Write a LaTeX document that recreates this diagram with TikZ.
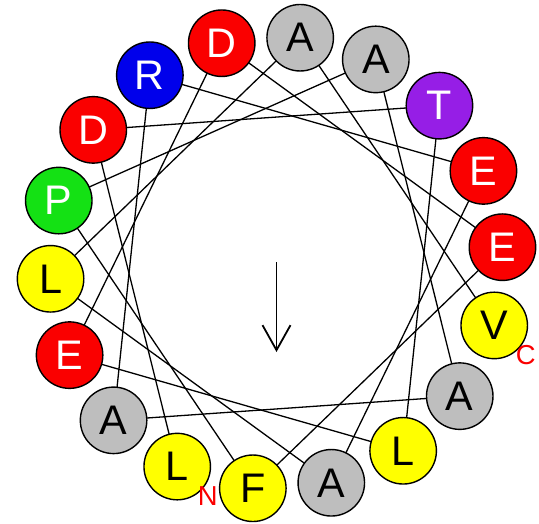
\documentclass[tikz,border=0pt]{standalone}
\usepackage{fontspec}
\setmainfont{Liberation Sans}
\usetikzlibrary{arrows.meta,backgrounds}

\definecolor{resred}{RGB}{250,0,0}
\definecolor{resgray}{RGB}{190,190,190}
\definecolor{resyellow}{RGB}{255,255,0}
\definecolor{resblue}{RGB}{0,0,235}
\definecolor{resgreen}{RGB}{20,225,20}
\definecolor{respurple}{RGB}{150,30,230}

\tikzset{
  residue/.style={circle, draw=black, line width=1.4bp, minimum size=66.5bp,
    inner sep=0pt, font=\fontsize{41.5}{41.5}\selectfont},
  link/.style={line width=1.3bp, draw=black},
  termlabel/.style={text=resred, font=\fontsize{27.5}{27.5}\selectfont, inner sep=0pt}
}

\begin{document}
\begin{tikzpicture}[x=1bp, y=-1bp]
  \useasboundingbox (0,0) rectangle (539,524);

  % helical wheel: residue k sits at 206 + 100(k-1) degrees, clockwise from top
  \foreach \k/\ang/\fillc/\txtc/\aa in {
      1/206/resyellow/black/L,
      2/306/resred/white/D,
      3/46/respurple/white/T,
      4/146/resyellow/black/L,
      5/246/resred/white/E,
      6/346/resred/white/D,
      7/86/resred/white/E,
      8/186/resyellow/black/F,
      9/286/resgreen/white/P,
      10/26/resgray/black/A,
      11/126/resgray/black/A,
      12/226/resgray/black/A,
      13/326/resblue/white/R,
      14/66/resred/white/E,
      15/166/resgray/black/A,
      16/266/resyellow/black/L,
      17/6/resgray/black/A,
      18/106/resyellow/black/V}{
    \node[residue, fill=\fillc, text=\txtc] (r\k)
      at ({276.5+226.5*sin(\ang)}, {263-226.5*cos(\ang)}) {\aa};
  }

  % backbone links between consecutive residues, behind the circles
  \begin{pgfonlayer}{background}
    \foreach \k [evaluate=\k as \n using int(\k+1)] in {1,...,17}{
      \draw[link] (r\k.center) -- (r\n.center);
    }
  \end{pgfonlayer}

  % terminus labels
  \node[termlabel] (nterm) at ([shift={(30.5,29.5)}]r1.center) {N};
  \node[termlabel] (cterm) at ([shift={(31.5,30)}]r18.center) {C};

  % hydrophobic moment arrow
  \coordinate (mstart) at (276.5,262);
  \coordinate (mend) at (276.5,352);
  \draw[line width=1.8bp, -{Straight Barb[length=25bp,width=28bp,line width=1.8bp]}]
    (mstart) -- (mend);
\end{tikzpicture}
\end{document}
